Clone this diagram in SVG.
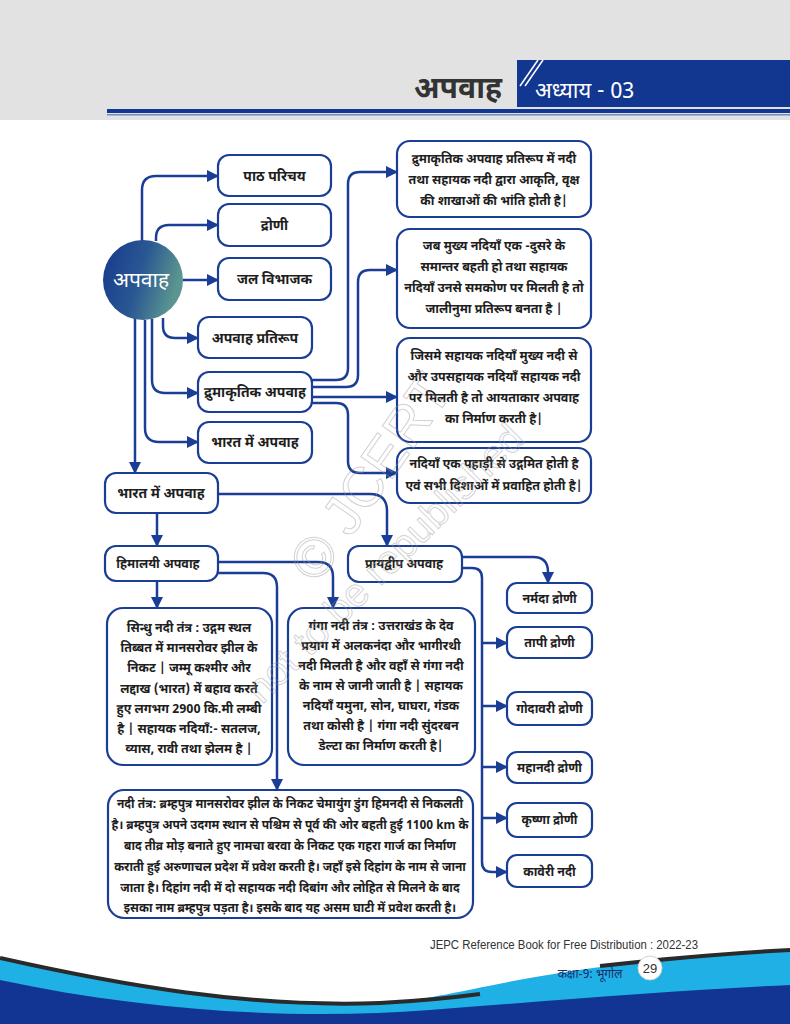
<svg xmlns="http://www.w3.org/2000/svg" width="790" height="1024" viewBox="0 0 790 1024">
<defs>
<linearGradient id="cg" x1="0" y1="0" x2="1" y2="0.3">
<stop offset="0" stop-color="#16398c"/>
<stop offset="0.55" stop-color="#2a5893"/>
<stop offset="1" stop-color="#5a958f"/>
</linearGradient>
<marker id="ah" viewBox="0 0 12 12" refX="11" refY="6" markerWidth="12" markerHeight="12" markerUnits="userSpaceOnUse" orient="auto">
<path d="M0,0 L12,6 L0,12 Z" fill="#1a3d96"/>
</marker>
<style>
.bx{fill:#fff;stroke:#1a3d96;stroke-width:2.2}
.t{font-family:'Noto Sans Devanagari','Noto Sans','Lohit Devanagari',sans-serif;font-weight:bold;fill:#1e1e1e;text-anchor:middle}
.n{font-size:14px}
.p{font-size:12.5px}
.q{font-size:12px}
.c{fill:none;stroke:#1a3d96;stroke-width:2.5}
.a{marker-end:url(#ah)}
.wm{font-family:'Liberation Sans',sans-serif;fill:none;stroke:#9a9a9a;stroke-width:1;stroke-opacity:0.45}
</style>
</defs>
<rect x="0" y="0" width="790" height="1024" fill="#fff"/>
<g id="header">
<rect x="0" y="0" width="790" height="120" fill="#e2e2e2"/>
<rect x="517" y="60" width="273" height="47" fill="#123790"/>
<path d="M520,86 L538,60" stroke="#fff" stroke-width="1.5"/>
<path d="M525,86 L543,60" stroke="#fff" stroke-width="1.5"/>
<rect x="107" y="109" width="683" height="4" fill="#123790"/>
<rect x="107" y="114" width="683" height="1.5" fill="#6a8cc8"/>
<text x="458" y="98" font-family="'Noto Sans Devanagari','Noto Sans',sans-serif" font-weight="bold" font-size="30" fill="#333" text-anchor="middle">अपवाह</text>
<text x="535" y="98" font-family="'Noto Sans Devanagari','Noto Sans',sans-serif" font-size="22" fill="#fff">अध्याय - 03</text>
</g>
<g id="connectors">
<path class="c a" d="M142,242 V190 Q142,176 156,176 H218"/>
<path class="c a" d="M156,241 V238 Q156,225 169,225 H218"/>
<path class="c a" d="M183,280 H218"/>
<path class="c a" d="M163,318 V326 Q163,338 175,338 H198"/>
<path class="c a" d="M152,319 V380 Q152,393 165,393 H198"/>
<path class="c a" d="M145,320 V428 Q145,442 159,442 H198"/>
<path class="c a" d="M135,318 V473"/>
<path class="c a" d="M312,380 H336 Q348,380 348,368 V184 Q348,172 360,172 H397"/>
<path class="c a" d="M312,387 H346 Q358,387 358,375 V282 Q358,270 370,270 H397"/>
<path class="c a" d="M312,397 H397"/>
<path class="c a" d="M312,403 H336 Q348,403 348,415 V461 Q348,473 360,473 H397"/>
<path class="c a" d="M157,513 V546"/>
<path class="c a" d="M218,494 H370 Q387,494 387,511 V546"/>
<path class="c a" d="M157,581 V608"/>
<path class="c a" d="M218,562 H318 Q333,562 333,577 V608"/>
<path class="c a" d="M218,573 H263 Q277,573 277,587 V790"/>
<path class="c a" d="M462,557 H533 Q548,557 548,572 V583"/>
<path class="c a" d="M462,568 H472 Q482,568 482,578 V862 Q482,872 492,872 H507"/>
<path class="c a" d="M482,643 H507"/>
<path class="c a" d="M482,706 H507"/>
<path class="c a" d="M482,767 H507"/>
<path class="c a" d="M482,818 H507"/>
</g>
<g id="n-apvah">
<circle cx="143" cy="280" r="40" fill="url(#cg)"/>
<text x="141" y="287" font-family="'Noto Sans Devanagari','Noto Sans',sans-serif" font-size="21" fill="#fff" text-anchor="middle">अपवाह</text>
</g>
<g id="n-path"><rect class="bx" x="218" y="155" width="113" height="41" rx="11"/><text class="t n" x="274.5" y="181">पाठ परिचय</text></g>
<g id="n-droni"><rect class="bx" x="218" y="204" width="113" height="42" rx="11"/><text class="t n" x="274.5" y="230">द्रोणी</text></g>
<g id="n-jal"><rect class="bx" x="218" y="258" width="113" height="42" rx="11"/><text class="t n" x="274.5" y="284">जल विभाजक</text></g>
<g id="n-pratirup"><rect class="bx" x="198" y="317" width="114" height="41" rx="11"/><text class="t n" x="255" y="343">अपवाह प्रतिरूप</text></g>
<g id="n-drum"><rect class="bx" x="198" y="372" width="114" height="40" rx="11"/><text class="t n" x="255" y="397">द्रुमाकृतिक अपवाह</text></g>
<g id="n-bharat1"><rect class="bx" x="198" y="422" width="114" height="41" rx="11"/><text class="t n" x="255" y="447">भारत में अपवाह</text></g>
<g id="n-r1"><rect class="bx" x="397" y="141" width="194" height="76" rx="13"/>
<text class="t p" x="494" y="163">द्रुमाकृतिक अपवाह प्रतिरूप में नदी</text>
<text class="t p" x="494" y="184">तथा सहायक नदी द्वारा आकृति, वृक्ष</text>
<text class="t p" x="494" y="205">की शाखाओं की भांति होती है|</text></g>
<g id="n-r2"><rect class="bx" x="397" y="229" width="194" height="99" rx="13"/>
<text class="t p" x="494" y="250">जब मुख्य नदियाँ एक -दुसरे के</text>
<text class="t p" x="494" y="271">समान्तर बहती हो तथा सहायक</text>
<text class="t p" x="494" y="292">नदियाँ उनसे समकोण पर मिलती है तो</text>
<text class="t p" x="494" y="313">जालीनुमा प्रतिरूप बनता है |</text></g>
<g id="n-r3"><rect class="bx" x="397" y="338" width="194" height="104" rx="13"/>
<text class="t p" x="494" y="360">जिसमे सहायक नदियाँ मुख्य नदी से</text>
<text class="t p" x="494" y="381">और उपसहायक नदियाँ सहायक नदी</text>
<text class="t p" x="494" y="402">पर मिलती है तो आयताकार अपवाह</text>
<text class="t p" x="494" y="423">का निर्माण करती है|</text></g>
<g id="n-r4"><rect class="bx" x="397" y="448" width="194" height="55" rx="13"/>
<text class="t p" x="494" y="468">नदियाँ एक पहाड़ी से उद्गमित होती है</text>
<text class="t p" x="494" y="490">एवं सभी दिशाओं में प्रवाहित होती है|</text></g>
<g id="n-bharat2"><rect class="bx" x="105" y="473" width="113" height="40" rx="11"/><text class="t n" x="161" y="498">भारत में अपवाह</text></g>
<g id="n-himalay"><rect class="bx" x="105" y="546" width="113" height="35" rx="11"/><text class="t p" x="158" y="568">हिमालयी अपवाह</text></g>
<g id="n-prayadweep"><rect class="bx" x="348" y="546" width="114" height="36" rx="11"/><text class="t p" x="404" y="568">प्रायद्वीप अपवाह</text></g>
<g id="n-sindhu"><rect class="bx" x="107" y="608" width="165" height="157" rx="16"/>
<text class="t p" x="189" y="632">सिन्धु नदी तंत्र : उद्गम स्थल</text>
<text class="t p" x="189" y="652">तिब्बत में मानसरोवर झील के</text>
<text class="t p" x="189" y="672">निकट | जम्मू कश्मीर और</text>
<text class="t p" x="189" y="693">लद्दाख (भारत) में बहाव करते</text>
<text class="t p" x="189" y="713">हुए लगभग 2900 कि.मी लम्बी</text>
<text class="t p" x="189" y="733">है | सहायक नदियाँ:- सतलज,</text>
<text class="t p" x="189" y="753">व्यास, रावी तथा झेलम है |</text></g>
<g id="n-ganga"><rect class="bx" x="288" y="608" width="187" height="157" rx="16"/>
<text class="t p" x="381" y="630">गंगा नदी तंत्र : उत्तराखंड के देव</text>
<text class="t p" x="381" y="650">प्रयाग में अलकनंदा और भागीरथी</text>
<text class="t p" x="381" y="670">नदी मिलती है और वहाँ से गंगा नदी</text>
<text class="t p" x="381" y="690">के नाम से जानी जाती है | सहायक</text>
<text class="t p" x="381" y="710">नदियाँ यमुना, सोन, घाघरा, गंडक</text>
<text class="t p" x="381" y="730">तथा कोसी है | गंगा नदी सुंदरबन</text>
<text class="t p" x="381" y="750">डेल्टा का निर्माण करती है|</text></g>
<g id="n-brahma"><rect class="bx" x="108" y="790" width="365" height="128" rx="16"/>
<text class="t q" x="290" y="808">नदी तंत्र: ब्रम्हपुत्र मानसरोवर झील के निकट चेमायुंग डुंग हिमनदी से निकलती</text>
<text class="t q" x="290" y="829">है। ब्रम्हपुत्र अपने उदगम स्थान से पश्चिम से पूर्व की ओर बहती हुई 1100 km के</text>
<text class="t q" x="290" y="850">बाद तीव्र मोड़ बनाते हुए नामचा बरवा के निकट एक गहरा गार्ज का निर्माण</text>
<text class="t q" x="290" y="871">कराती हुई अरुणाचल प्रदेश में प्रवेश करती है। जहाँ इसे दिहांग के नाम से जाना</text>
<text class="t q" x="290" y="892">जाता है। दिहांग नदी में दो सहायक नदी दिबांग और लोहित से मिलने के बाद</text>
<text class="t q" x="290" y="912">इसका नाम ब्रम्हपुत्र पड़ता है। इसके बाद यह असम घाटी में प्रवेश करती है।</text></g>
<g id="n-narmada"><rect class="bx" x="507" y="583" width="85" height="30" rx="10"/><text class="t p" x="549.5" y="603">नर्मदा द्रोणी</text></g>
<g id="n-tapi"><rect class="bx" x="507" y="627" width="85" height="31" rx="10"/><text class="t p" x="549.5" y="647">तापी द्रोणी</text></g>
<g id="n-godavari"><rect class="bx" x="507" y="692" width="85" height="33" rx="10"/><text class="t p" x="549.5" y="713">गोदावरी द्रोणी</text></g>
<g id="n-mahanadi"><rect class="bx" x="507" y="752" width="85" height="31" rx="10"/><text class="t p" x="549.5" y="772">महानदी द्रोणी</text></g>
<g id="n-krishna"><rect class="bx" x="507" y="803" width="85" height="34" rx="10"/><text class="t p" x="549.5" y="824">कृष्णा द्रोणी</text></g>
<g id="n-kaveri"><rect class="bx" x="507" y="855" width="85" height="32" rx="10"/><text class="t p" x="549.5" y="876">कावेरी नदी</text></g>
<g id="watermark">
<text class="wm" font-size="56" transform="translate(318,585) rotate(-55)">© JCERT</text>
<text class="wm" font-size="40" transform="translate(262,705) rotate(-45)">not to be republished</text>
</g>
<g id="footer">
<path d="M0,958 C120,985 250,1008 380,1003 C460,1000 520,965 790,950 L790,1024 L0,1024 Z" fill="#1fb1e6"/>
<path d="M0,958 C120,985 250,1008 380,1003 C420,1001 450,998 480,994" fill="none" stroke="#2a2a2a" stroke-width="4"/>
<path d="M600,966 C680,957 730,953 790,950" fill="none" stroke="#2a2a2a" stroke-width="4"/>
<path d="M0,980 C150,1012 300,1020 430,1010 C560,1000 680,990 790,985 L790,1024 L0,1024 Z" fill="#123593"/>
<text x="430" y="949" font-family="'Liberation Sans Narrow','Liberation Sans',sans-serif" font-size="12" fill="#333" textLength="268" lengthAdjust="spacingAndGlyphs">JEPC Reference Book for Free Distribution : 2022-23</text>
<text x="590" y="978" font-family="'Noto Sans Devanagari','Noto Sans',sans-serif" font-size="12" fill="#1a2a6a" text-anchor="middle">कक्षा-9: भूगोल</text>
<circle cx="650" cy="968" r="12" fill="#fff" stroke="#d0d0d0" stroke-width="1"/>
<text x="650" y="973" font-family="'Liberation Sans Narrow','Liberation Sans',sans-serif" font-size="13" fill="#333" text-anchor="middle">29</text>
</g>
</svg>
